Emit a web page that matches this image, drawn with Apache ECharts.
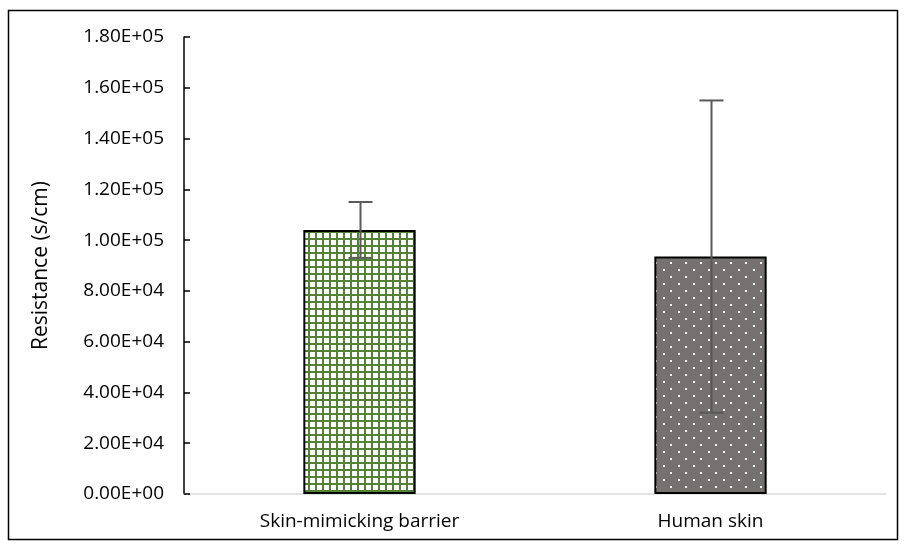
<!DOCTYPE html>
<html>
<head>
<meta charset="utf-8">
<script src="https://cdn.jsdelivr.net/npm/echarts@6/dist/echarts.min.js"></script>
<style>
  html, body { margin: 0; padding: 0; background: #fff; }
  #chart { width: 904px; height: 549px; }
</style>
</head>
<body>
<div id="chart"></div>
<script>
const categories = ["Skin-mimicking barrier", "Human skin"];
const means = [104000, 93500];
const errLow = [93000, 32000];
const errHigh = [115000, 155000];
const yTicks = [0, 20000, 40000, 60000, 80000, 100000, 120000, 140000, 160000, 180000];

// grid pattern for the first bar
const makeGrid = () => {
  const c = document.createElement("canvas");
  c.width = 7; c.height = 7;
  const ctx = c.getContext("2d");
  ctx.fillStyle = "#ffffff";
  ctx.fillRect(0, 0, 7, 7);
  ctx.fillStyle = "#548235";
  ctx.fillRect(0, 0, 7, 2);
  ctx.fillRect(0, 0, 2, 7);
  return c;
};
// dotted pattern for the second bar
const makeDots = () => {
  const c = document.createElement("canvas");
  c.width = 15; c.height = 14;
  const ctx = c.getContext("2d");
  ctx.fillStyle = "#767171";
  ctx.fillRect(0, 0, 15, 14);
  ctx.fillStyle = "#f7f7f7";
  ctx.fillRect(3, 3, 2, 2);
  ctx.fillRect(10, 10, 2, 2);
  return c;
};

const fills = [
  { image: makeGrid(), repeat: "repeat" },
  { image: makeDots(), repeat: "repeat" }
];

const font = "'Open Sans', 'Liberation Sans', sans-serif";
const myChart = echarts.init(document.getElementById("chart"));
const option = {
  animation: false,
  graphic: [
    {
      type: "rect",
      shape: { x: 8.5, y: 10.5, width: 889, height: 529 },
      style: { fill: "none", stroke: "#000", lineWidth: 1.5 },
      silent: true
    }
  ],
  grid: { left: 184, right: 18, top: 37, bottom: 55 },
  xAxis: {
    type: "category",
    data: categories,
    axisLine: { lineStyle: { color: "#d9d9d9", width: 1.5 } },
    axisTick: { show: false },
    axisLabel: { color: "#000", fontSize: 19, margin: 18, fontFamily: font }
  },
  yAxis: {
    type: "value",
    min: 0,
    max: 180000,
    interval: 20000,
    name: "Resistance (s/cm)",
    nameLocation: "middle",
    nameGap: 132,
    nameTextStyle: { color: "#000", fontSize: 21, fontFamily: font },
    axisLine: { show: true, lineStyle: { color: "#000", width: 1.5 } },
    axisTick: { show: true, inside: true, length: 6, lineStyle: { color: "#000", width: 1.5 } },
    splitLine: { show: false },
    axisLabel: {
      color: "#000",
      fontSize: 19,
      margin: 20,
      fontFamily: font,
      formatter: (v) => {
        if (yTicks.indexOf(v) < 0) return "";
        if (v === 0) return "0.00E+00";
        const e = Math.floor(Math.log10(v));
        const m = v / Math.pow(10, e);
        return m.toFixed(2) + "E+" + String(e).padStart(2, "0");
      }
    }
  },
  series: [
    {
      type: "bar",
      barWidth: "32%",
      data: means.map((v, i) => ({
        value: v,
        itemStyle: { color: fills[i], borderColor: "#000", borderWidth: 2 }
      }))
    },
    {
      type: "custom",
      z: 10,
      data: categories.map((c, i) => [i, errLow[i], errHigh[i]]),
      renderItem: (params, api) => {
        const lo = api.coord([api.value(0), api.value(1)]);
        const hi = api.coord([api.value(0), api.value(2)]);
        const x = Math.round(lo[0]) + 0.5;
        const cap = 12;
        const style = { stroke: "#595959", lineWidth: 2 };
        return {
          type: "group",
          children: [
            { type: "line", shape: { x1: x, y1: lo[1], x2: x, y2: hi[1] }, style },
            { type: "line", shape: { x1: x - cap, y1: hi[1], x2: x + cap, y2: hi[1] }, style },
            { type: "line", shape: { x1: x - cap, y1: lo[1], x2: x + cap, y2: lo[1] }, style }
          ]
        };
      }
    }
  ]
};
myChart.setOption(option);
</script>
</body>
</html>
